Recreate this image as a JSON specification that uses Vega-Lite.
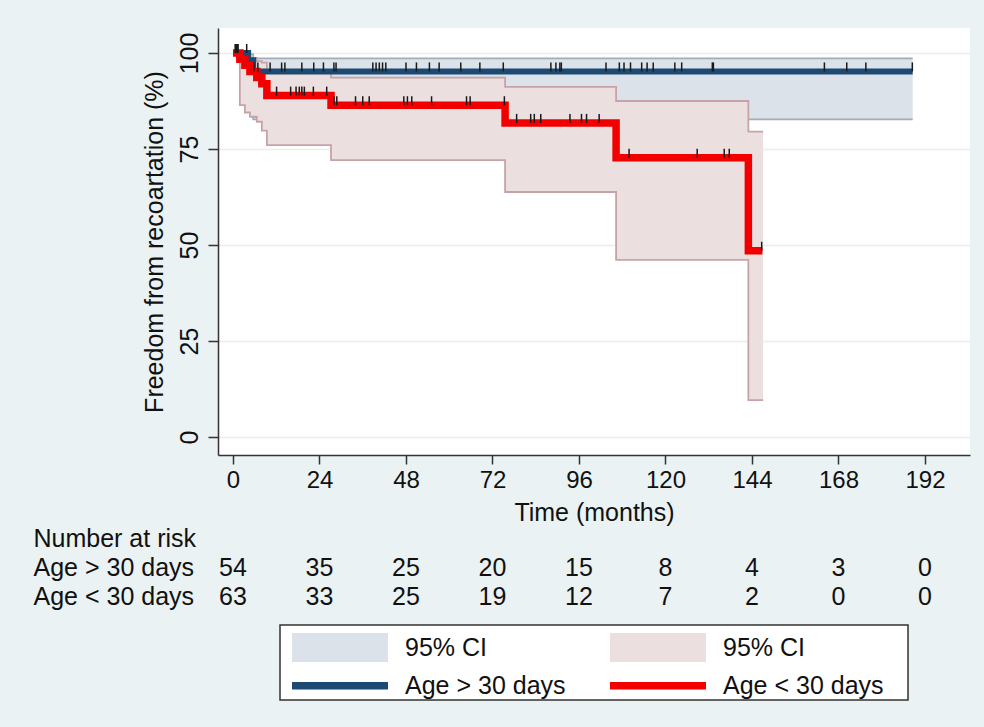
{
  "$schema": "https://vega.github.io/schema/vega-lite/v6.json",
  "background": "#eaf2f3",
  "padding": {"left": 33, "top": 28, "right": 14, "bottom": 27},
  "autosize": {"type": "pad"},
  "config": {
    "font": "Liberation Sans",
    "view": {"stroke": null},
    "axis": {"labelColor": "#111", "titleColor": "#111", "titleFontWeight": "normal", "labelFont": "Liberation Sans", "titleFont": "Liberation Sans"}
  },
  "datasets": {
    "curves": [
      {"g": "gt", "t": 0, "s": 100}, {"g": "gt", "t": 4.2, "s": 98.1}, {"g": "gt", "t": 5.6, "s": 95.2}, {"g": "gt", "t": 188.6, "s": 95.2},
      {"g": "lt", "t": 0, "s": 100}, {"g": "lt", "t": 1.9, "s": 98.4}, {"g": "lt", "t": 3.3, "s": 96.8}, {"g": "lt", "t": 4.7, "s": 95.2},
      {"g": "lt", "t": 6.6, "s": 93.6}, {"g": "lt", "t": 8.0, "s": 92.0}, {"g": "lt", "t": 9.4, "s": 88.9}, {"g": "lt", "t": 27.2, "s": 86.4},
      {"g": "lt", "t": 75.5, "s": 81.8}, {"g": "lt", "t": 106.3, "s": 72.7}, {"g": "lt", "t": 143.0, "s": 48.5}, {"g": "lt", "t": 146.9, "s": 48.5}
    ],
    "ci": [
      {"g": "gt", "t": 0, "lo": 100, "hi": 100}, {"g": "gt", "t": 4.2, "lo": 88.0, "hi": 99.7}, {"g": "gt", "t": 5.6, "lo": 82.7, "hi": 98.6}, {"g": "gt", "t": 188.6, "lo": 82.7, "hi": 98.6},
      {"g": "lt", "t": 0, "lo": 100, "hi": 100}, {"g": "lt", "t": 1.9, "lo": 86.4, "hi": 99.8}, {"g": "lt", "t": 3.3, "lo": 84.5, "hi": 99.3},
      {"g": "lt", "t": 4.7, "lo": 83.4, "hi": 98.7}, {"g": "lt", "t": 6.6, "lo": 82.1, "hi": 97.9}, {"g": "lt", "t": 8.0, "lo": 79.8, "hi": 97.5},
      {"g": "lt", "t": 9.4, "lo": 76.0, "hi": 95.4}, {"g": "lt", "t": 27.2, "lo": 72.1, "hi": 93.6}, {"g": "lt", "t": 75.5, "lo": 63.8, "hi": 91.2},
      {"g": "lt", "t": 106.3, "lo": 46.1, "hi": 87.5}, {"g": "lt", "t": 143.0, "lo": 9.6, "hi": 79.5}, {"g": "lt", "t": 147.1, "lo": 9.6, "hi": 79.5}
    ],
    "censor": [
      {"g": "gt", "t": 0.8, "s": 100}, {"g": "gt", "t": 1.3, "s": 100}, {"g": "gt", "t": 3.8, "s": 100},
      {"g": "gt", "t": 5.8, "s": 95.2}, {"g": "gt", "t": 6.9, "s": 95.2}, {"g": "gt", "t": 10.3, "s": 95.2}, {"g": "gt", "t": 13.5, "s": 95.2},
      {"g": "gt", "t": 14.4, "s": 95.2}, {"g": "gt", "t": 19.1, "s": 95.2}, {"g": "gt", "t": 22.4, "s": 95.2}, {"g": "gt", "t": 25.1, "s": 95.2},
      {"g": "gt", "t": 28.0, "s": 95.2}, {"g": "gt", "t": 28.6, "s": 95.2}, {"g": "gt", "t": 38.8, "s": 95.2}, {"g": "gt", "t": 39.7, "s": 95.2},
      {"g": "gt", "t": 40.6, "s": 95.2}, {"g": "gt", "t": 41.5, "s": 95.2}, {"g": "gt", "t": 42.4, "s": 95.2}, {"g": "gt", "t": 48.0, "s": 95.2},
      {"g": "gt", "t": 50.9, "s": 95.2}, {"g": "gt", "t": 54.5, "s": 95.2}, {"g": "gt", "t": 57.2, "s": 95.2}, {"g": "gt", "t": 63.2, "s": 95.2},
      {"g": "gt", "t": 68.5, "s": 95.2}, {"g": "gt", "t": 75.0, "s": 95.2}, {"g": "gt", "t": 88.2, "s": 95.2}, {"g": "gt", "t": 89.6, "s": 95.2},
      {"g": "gt", "t": 90.7, "s": 95.2}, {"g": "gt", "t": 91.1, "s": 95.2}, {"g": "gt", "t": 103.5, "s": 95.2}, {"g": "gt", "t": 107.2, "s": 95.2},
      {"g": "gt", "t": 108.5, "s": 95.2}, {"g": "gt", "t": 110.3, "s": 95.2}, {"g": "gt", "t": 113.4, "s": 95.2}, {"g": "gt", "t": 114.9, "s": 95.2},
      {"g": "gt", "t": 116.6, "s": 95.2}, {"g": "gt", "t": 122.6, "s": 95.2}, {"g": "gt", "t": 124.5, "s": 95.2}, {"g": "gt", "t": 133.0, "s": 95.2},
      {"g": "gt", "t": 133.3, "s": 95.2}, {"g": "gt", "t": 164.1, "s": 95.2}, {"g": "gt", "t": 170.3, "s": 95.2}, {"g": "gt", "t": 175.6, "s": 95.2},
      {"g": "gt", "t": 188.5, "s": 95.2},
      {"g": "lt", "t": 0.6, "s": 100}, {"g": "lt", "t": 1.0, "s": 100}, {"g": "lt", "t": 1.4, "s": 100},
      {"g": "lt", "t": 12.1, "s": 88.9}, {"g": "lt", "t": 16.0, "s": 88.9}, {"g": "lt", "t": 17.5, "s": 88.9}, {"g": "lt", "t": 18.4, "s": 88.9},
      {"g": "lt", "t": 19.1, "s": 88.9}, {"g": "lt", "t": 19.8, "s": 88.9}, {"g": "lt", "t": 22.3, "s": 88.9}, {"g": "lt", "t": 26.0, "s": 88.9},
      {"g": "lt", "t": 28.0, "s": 86.4}, {"g": "lt", "t": 28.8, "s": 86.4}, {"g": "lt", "t": 34.0, "s": 86.4}, {"g": "lt", "t": 36.0, "s": 86.4},
      {"g": "lt", "t": 37.8, "s": 86.4}, {"g": "lt", "t": 47.4, "s": 86.4}, {"g": "lt", "t": 48.4, "s": 86.4}, {"g": "lt", "t": 49.6, "s": 86.4},
      {"g": "lt", "t": 55.1, "s": 86.4}, {"g": "lt", "t": 64.8, "s": 86.4}, {"g": "lt", "t": 65.8, "s": 86.4}, {"g": "lt", "t": 75.3, "s": 86.4},
      {"g": "lt", "t": 78.7, "s": 81.8}, {"g": "lt", "t": 82.6, "s": 81.8}, {"g": "lt", "t": 83.6, "s": 81.8}, {"g": "lt", "t": 85.4, "s": 81.8},
      {"g": "lt", "t": 93.5, "s": 81.8}, {"g": "lt", "t": 96.7, "s": 81.8}, {"g": "lt", "t": 98.1, "s": 81.8}, {"g": "lt", "t": 101.6, "s": 81.8},
      {"g": "lt", "t": 109.9, "s": 72.7}, {"g": "lt", "t": 128.8, "s": 72.7}, {"g": "lt", "t": 136.3, "s": 72.7}, {"g": "lt", "t": 137.7, "s": 72.7},
      {"g": "lt", "t": 146.7, "s": 48.5}
    ],
    "risk": [
      {"row": "Age > 30 days", "t": 0, "n": 54}, {"row": "Age > 30 days", "t": 24, "n": 35}, {"row": "Age > 30 days", "t": 48, "n": 25},
      {"row": "Age > 30 days", "t": 72, "n": 20}, {"row": "Age > 30 days", "t": 96, "n": 15}, {"row": "Age > 30 days", "t": 120, "n": 8},
      {"row": "Age > 30 days", "t": 144, "n": 4}, {"row": "Age > 30 days", "t": 168, "n": 3}, {"row": "Age > 30 days", "t": 192, "n": 0},
      {"row": "Age < 30 days", "t": 0, "n": 63}, {"row": "Age < 30 days", "t": 24, "n": 33}, {"row": "Age < 30 days", "t": 48, "n": 25},
      {"row": "Age < 30 days", "t": 72, "n": 19}, {"row": "Age < 30 days", "t": 96, "n": 12}, {"row": "Age < 30 days", "t": 120, "n": 7},
      {"row": "Age < 30 days", "t": 144, "n": 2}, {"row": "Age < 30 days", "t": 168, "n": 0}, {"row": "Age < 30 days", "t": 192, "n": 0}
    ]
  },
  "spacing": 69,
  "bounds": "flush",
  "vconcat": [
    {
      "width": 752,
      "height": 427,
      "view": {"fill": "white", "stroke": null},
      "layer": [
        {
          "data": {"name": "ci"},
          "transform": [{"filter": "datum.g == 'gt'"}],
          "mark": {"type": "area", "interpolate": "step-after", "opacity": 1},
          "encoding": {
            "x": {"field": "t", "type": "quantitative", "scale": {"domain": [-4.16, 204.5], "nice": false, "zero": false},
              "axis": {"values": [0, 24, 48, 72, 96, 120, 144, 168, 192], "title": "Time (months)", "grid": false,
                "domainColor": "#333", "domainWidth": 1.5, "tickColor": "#333", "tickWidth": 1.5, "tickSize": 9,
                "labelFontSize": 24, "labelPadding": 4, "titleFontSize": 25, "titlePadding": 8}},
            "y": {"field": "lo", "type": "quantitative", "scale": {"domain": [-4.69, 106.51], "nice": false, "zero": false},
              "axis": {"values": [0, 25, 50, 75, 100], "title": "Freedom from recoartation (%)", "grid": true, "gridColor": "#e6eef0", "gridWidth": 1.5,
                "domainColor": "#333", "domainWidth": 1.5, "tickColor": "#333", "tickWidth": 1.5, "tickSize": 10,
                "labelAngle": 270, "labelAlign": "center", "labelBaseline": "alphabetic", "labelFontSize": 25, "labelPadding": 11,
                "titleFontSize": 25, "titlePadding": 10}},
            "y2": {"field": "hi"},
            "fill": {
              "datum": "ci_gt",
              "scale": {"domain": ["ci_gt", "ci_lt"], "range": ["#dbe2ea", "#ecdfdf"]},
              "legend": {
                "orient": "none", "legendX": 74, "legendY": 605, "columns": 2, "direction": "horizontal", "title": null,
                "symbolType": "M-1,-0.3H1V0.3H-1Z", "symbolSize": 9216, "symbolStrokeWidth": 0, "clipHeight": 29,
                "labelFont": "Liberation Sans", "labelFontSize": 25, "labelColor": "#111",
                "labelOffset": 17, "labelLimit": 400, "columnPadding": 123, "padding": 0,
                "labelExpr": "'95% CI'"
              }
            }
          }
        },
        {
          "data": {"name": "ci"},
          "transform": [{"filter": "datum.g == 'gt'"}],
          "mark": {"type": "line", "interpolate": "step-after", "stroke": "#a3acb9", "strokeWidth": 1.8},
          "encoding": {"x": {"field": "t", "type": "quantitative"}, "y": {"field": "hi", "type": "quantitative"}}
        },
        {
          "data": {"name": "ci"},
          "transform": [{"filter": "datum.g == 'gt'"}],
          "mark": {"type": "line", "interpolate": "step-after", "stroke": "#a3acb9", "strokeWidth": 1.8},
          "encoding": {"x": {"field": "t", "type": "quantitative"}, "y": {"field": "lo", "type": "quantitative"}}
        },
        {
          "data": {"name": "ci"},
          "transform": [{"filter": "datum.g == 'lt'"}],
          "mark": {"type": "area", "interpolate": "step-after", "opacity": 1},
          "encoding": {
            "x": {"field": "t", "type": "quantitative"},
            "y": {"field": "lo", "type": "quantitative"},
            "y2": {"field": "hi"},
            "fill": {"datum": "ci_lt"}
          }
        },
        {
          "data": {"name": "ci"},
          "transform": [{"filter": "datum.g == 'lt'"}],
          "mark": {"type": "line", "interpolate": "step-after", "stroke": "#c8a3a6", "strokeWidth": 1.8},
          "encoding": {"x": {"field": "t", "type": "quantitative"}, "y": {"field": "hi", "type": "quantitative"}}
        },
        {
          "data": {"name": "ci"},
          "transform": [{"filter": "datum.g == 'lt'"}],
          "mark": {"type": "line", "interpolate": "step-after", "stroke": "#c8a3a6", "strokeWidth": 1.8},
          "encoding": {"x": {"field": "t", "type": "quantitative"}, "y": {"field": "lo", "type": "quantitative"}}
        },
        {
          "data": {"name": "curves"},
          "transform": [{"filter": "datum.g == 'gt'"}],
          "mark": {"type": "line", "interpolate": "step-after", "strokeWidth": 6},
          "encoding": {
            "x": {"field": "t", "type": "quantitative"}, "y": {"field": "s", "type": "quantitative"},
            "stroke": {
              "datum": "ln_gt",
              "scale": {"domain": ["ln_gt", "ln_lt"], "range": ["#1d4a73", "#f20000"]},
              "legend": {
                "orient": "none", "legendX": 70, "legendY": 645, "columns": 2, "direction": "horizontal", "title": null,
                "symbolType": "stroke", "symbolSize": 9216, "symbolStrokeWidth": 7.5, "clipHeight": 25,
                "labelFont": "Liberation Sans", "labelFontSize": 25, "labelColor": "#111",
                "labelOffset": 13, "labelLimit": 400, "columnPadding": 40, "padding": 0,
                "labelExpr": "datum.value == 'ln_gt' ? 'Age > 30 days' : 'Age < 30 days'"
              }
            }
          }
        },
        {
          "data": {"name": "curves"},
          "transform": [{"filter": "datum.g == 'lt'"}],
          "mark": {"type": "line", "interpolate": "step-after", "strokeWidth": 7.5},
          "encoding": {"x": {"field": "t", "type": "quantitative"}, "y": {"field": "s", "type": "quantitative"}, "stroke": {"datum": "ln_lt"}}
        },
        {
          "data": {"name": "censor"},
          "mark": {"type": "tick", "orient": "vertical", "size": 9, "thickness": 1.5, "color": "#1a1a1a", "yOffset": -4.5, "opacity": 1},
          "encoding": {"x": {"field": "t", "type": "quantitative"}, "y": {"field": "s", "type": "quantitative"}}
        }
      ]
    },
    {
      "spacing": 14,
      "bounds": "flush",
      "center": true,
      "vconcat": [
        {
          "width": 752,
          "height": 87,
          "data": {"name": "risk"},
          "mark": {"type": "text", "fontSize": 25, "color": "#111", "font": "Liberation Sans"},
          "encoding": {
            "x": {"field": "t", "type": "quantitative", "scale": {"domain": [-4.16, 204.5], "nice": false, "zero": false}, "axis": null},
            "y": {"field": "row", "type": "nominal",
              "scale": {"type": "point", "domain": ["Number at risk", "Age > 30 days", "Age < 30 days"], "padding": 0.5},
              "axis": {"title": null, "domain": false, "ticks": false, "tickSize": 0, "grid": false, "labelAlign": "left",
                "labelPadding": 185, "labelFontSize": 25, "labelLimit": 400, "labelColor": "#111"}},
            "text": {"field": "n", "type": "quantitative"}
          }
        },
        {
          "width": 628,
          "height": 75,
          "view": {"fill": "white", "stroke": "#333", "strokeWidth": 1.5},
          "data": {"values": [{}]},
          "mark": {"type": "text"},
          "encoding": {"text": {"value": ""}}
        }
      ]
    }
  ]
}
